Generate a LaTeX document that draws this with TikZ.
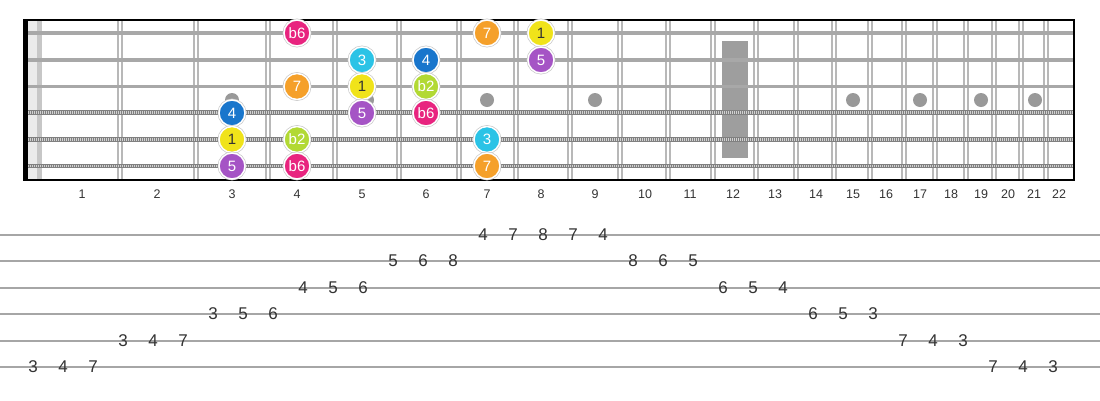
\documentclass[tikz,border=0pt]{standalone}
\usepackage{fontspec}
\setmainfont{Liberation Sans}
\definecolor{cB6}{HTML}{E8247F}
\definecolor{cSeven}{HTML}{F5A02A}
\definecolor{cOne}{HTML}{F0E31A}
\definecolor{cFive}{HTML}{A554C5}
\definecolor{cThree}{HTML}{2BC3E6}
\definecolor{cFour}{HTML}{1976CC}
\definecolor{cB2}{HTML}{B2D934}
\definecolor{fretgray}{HTML}{B8B8B8}
\definecolor{strgray}{HTML}{A8A8A8}
\definecolor{txtgray}{HTML}{333333}
\begin{document}
\begin{tikzpicture}[x=1pt,y=-1pt,
  fretline/.style={draw=fretgray, line width=2pt},
  plainstr/.style={draw=strgray, line width=3.2pt},
  woundbase/.style={draw=black!50, line width=4.6pt},
  woundtop/.style={draw=black!18, line width=2.6pt, dash pattern=on 1pt off 1pt},
  inlay/.style={circle, fill=black!40, minimum size=14pt, inner sep=0pt},
  note/.style={circle, minimum size=26pt, inner sep=0pt, draw=white, line width=1.5pt,
    preaction={draw=black!22, line width=2.8pt},
    font=\fontsize{15}{15}\selectfont, text=white},
  fretnum/.style={font=\fontsize{12.5}{12.5}\selectfont, text=txtgray, inner sep=1pt},
  tabline/.style={draw=black!35, line width=1.7pt},
  tabnum/.style={font=\fontsize{17}{17}\selectfont, text=txtgray, inner sep=1pt}
]
\useasboundingbox (0,0) rectangle (1100,400);
% nut area
\fill[black!8] (28,20) rectangle (37,180);
\fill[black!22] (37,20) rectangle (42,180);
% frets
\foreach \n in {1,...,21} {
  \pgfmathsetmacro{\fx}{40+1432*(1-pow(2,-\n/12))}
  \draw[fretline] (\fx-2,20) -- (\fx-2,180);
  \draw[fretline] (\fx+2,20) -- (\fx+2,180);
}
% 12th fret marker
\fill[black!38] (722,41) rectangle (748,158);
% inlay dots
\foreach \x [count=\i] in {232,367,487,595,853,920,981,1035}
  \node[inlay] (dot\i) at (\x,100) {};
% strings
\foreach \y [count=\i] in {33,60,86.5} {
  \draw[plainstr] (24,\y) -- (1074,\y);
}
\foreach \y [count=\i] in {112.5,139.5,166} {
  \draw[woundbase] (24,\y) -- (1074,\y);
  \draw[woundtop] (24,\y) -- (1074,\y);
}
% borders
\fill[black] (23,20) rectangle (27.5,180);
\draw[black, line width=1.6pt] (23,20) -- (1075,20);
\draw[black, line width=1.6pt] (23,180) -- (1075,180);
\draw[black, line width=1.6pt] (1074,20) -- (1074,180);
% notes
\foreach \x/\y/\l/\c/\t [count=\i] in {
  297/33/b6/cB6/white, 487/33/7/cSeven/white, 541/33/1/cOne/txtgray,
  362/60/3/cThree/white, 426/60/4/cFour/white, 541/60/5/cFive/white,
  297/86.5/7/cSeven/white, 362/86.5/1/cOne/txtgray, 426/86.5/b2/cB2/white,
  232/113/4/cFour/white, 362/113/5/cFive/white, 426/113/b6/cB6/white,
  232/139.5/1/cOne/txtgray, 297/139.5/b2/cB2/white, 487/139.5/3/cThree/white,
  232/166/5/cFive/white, 297/166/b6/cB6/white, 487/166/7/cSeven/white}
  \node[note, fill=\c, text=\t] (note\i) at (\x,\y) {\l};
% fret numbers
\foreach \n/\x in {1/82,2/157,3/232,4/297,5/362,6/426,7/487,8/541,9/595,10/645,11/690,12/733,13/775,14/816,15/853,16/886,17/920,18/951,19/981,20/1008,21/1034,22/1059}
  \node[fretnum] (fn\n) at (\x,194) {\n};
% tab lines
\foreach \y [count=\i] in {235,261,288,314,341,367}
  \draw[tabline] (0,\y) -- (1100,\y);
% tab numbers
\foreach \k/\y/\v in {0/367/3,1/367/4,2/367/7,3/341/3,4/341/4,5/341/7,6/314/3,7/314/5,8/314/6,
  9/288/4,10/288/5,11/288/6,12/261/5,13/261/6,14/261/8,15/235/4,16/235/7,17/235/8,18/235/7,19/235/4,
  20/261/8,21/261/6,22/261/5,23/288/6,24/288/5,25/288/4,26/314/6,27/314/5,28/314/3,
  29/341/7,30/341/4,31/341/3,32/367/7,33/367/4,34/367/3}
  \node[tabnum] (tab\k) at (33+30*\k,\y) {\v};
\end{tikzpicture}
\end{document}
